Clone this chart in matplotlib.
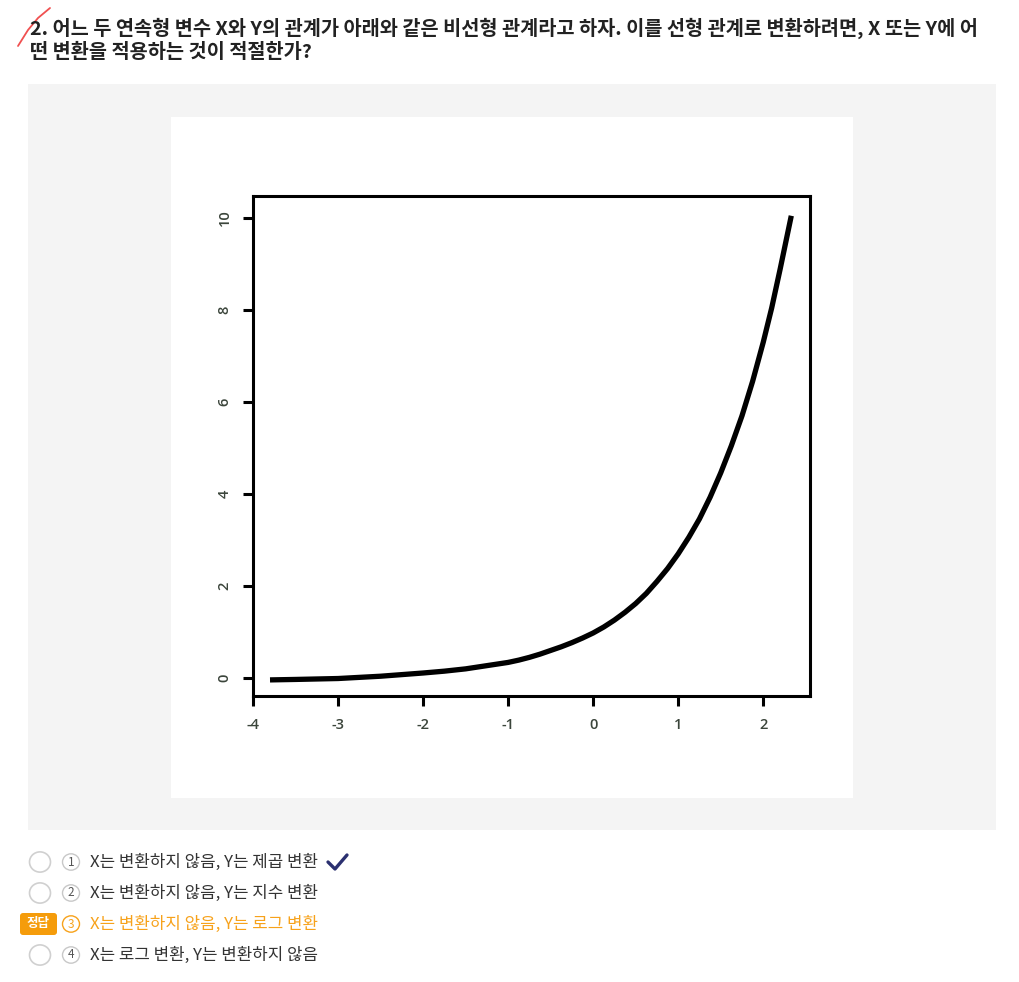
import matplotlib
matplotlib.use("Agg")
import matplotlib.pyplot as plt
from matplotlib.patches import Rectangle, Circle, FancyBboxPatch
from matplotlib.lines import Line2D

plt.rcParams['font.family'] = ['Noto Sans CJK KR', 'DejaVu Sans']

# ---- data ----
x_vals = [-3.8, -3.5, -3.0, -2.5, -2.0, -1.75, -1.5, -1.25, -1.0, -0.875, -0.75,
          -0.625, -0.5, -0.375, -0.25, -0.125, 0.0, 0.125, 0.25, 0.375, 0.5,
          0.625, 0.75, 0.875, 1.0, 1.125, 1.25, 1.375, 1.5, 1.625, 1.75, 1.875,
          2.0, 2.1, 2.2, 2.33]
y_vals = [-0.04, -0.03, -0.01, 0.04, 0.11, 0.15, 0.2, 0.27, 0.34, 0.39, 0.45,
          0.52, 0.6, 0.68, 0.77, 0.87, 0.98, 1.11, 1.26, 1.43, 1.62,
          1.84, 2.1, 2.38, 2.7, 3.06, 3.46, 3.93, 4.46, 5.05, 5.7, 6.45,
          7.3, 8.05, 8.9, 10.05]
x_ticks = [-4, -3, -2, -1, 0, 1, 2]
y_ticks = [0, 2, 4, 6, 8, 10]

title_lines = ["2. 어느 두 연속형 변수 X와 Y의 관계가 아래와 같은 비선형 관계라고 하자. 이를 선형 관계로 변환하려면, X 또는 Y에 어",
               "떤 변환을 적용하는 것이 적절한가?"]
options = ["X는 변환하지 않음, Y는 제곱 변환",
           "X는 변환하지 않음, Y는 지수 변환",
           "X는 변환하지 않음, Y는 로그 변환",
           "X는 로그 변환, Y는 변환하지 않음"]
answer_index = 2
checked_index = 0

W, H = 1020, 982
fig = plt.figure(figsize=(W / 100, H / 100), dpi=100)
fig.patch.set_facecolor('white')

def fx(px):
    return px / W

def fy(py):
    return 1 - py / H

def rect(x0, y0, x1, y1, **kw):
    fig.patches.append(Rectangle((fx(x0), fy(y1)), fx(x1) - fx(x0), fy(y0) - fy(y1),
                                 transform=fig.transFigure, **kw))

# panels
rect(28, 84, 996, 830, facecolor='#f4f4f4', edgecolor='none', zorder=0)
rect(171, 117, 853, 798, facecolor='white', edgecolor='none', zorder=0)

# title
for i, line in enumerate(title_lines):
    fig.text(fx(30), fy(28 + i * 24), line, fontsize=14.2, fontweight='bold',
             color='#222222', va='center', ha='left')

# red slash mark
fig.lines.append(Line2D([fx(18), fx(28), fx(38), fx(50)], [fy(46), fy(30), fy(18), fy(8)],
                        transform=fig.transFigure, color='#f05050', lw=1.3,
                        solid_capstyle='round'))

# axes
ax = fig.add_axes([fx(253), fy(696), fx(810) - fx(253), fy(196) - fy(696)])
ax.set_zorder(5)
ax.plot(x_vals, y_vals, color='black', lw=3.8, solid_capstyle='butt',
        solid_joinstyle='round')
ax.set_xlim(-4.0, 2.55)
ax.set_ylim(-0.39, 10.48)
ax.set_xticks(x_ticks)
ax.set_yticks(y_ticks)
ax.set_xticklabels([str(t) for t in x_ticks])
ax.set_yticklabels([str(t) for t in y_ticks], rotation=90, va='center')
for s in ax.spines.values():
    s.set_linewidth(2.2)
    s.set_color('black')
ax.tick_params(axis='both', direction='out', length=7.5, width=2.2, color='black',
               labelsize=10.5, labelcolor='#3b453b', pad=8)
for lab in ax.get_xticklabels() + ax.get_yticklabels():
    lab.set_family(['Open Sans', 'DejaVu Sans'])
    lab.set_fontweight('semibold')

# options
orange = '#f7a21b'
for i, opt in enumerate(options):
    cy = 862 + i * 31
    col = orange if i == answer_index else '#333333'
    if i == answer_index:
        fig.patches.append(FancyBboxPatch((fx(20), fy(935)), fx(57) - fx(20), fy(913) - fy(935),
                                          boxstyle='round,pad=0,rounding_size=0.003',
                                          transform=fig.transFigure, facecolor='#f59c0b',
                                          edgecolor='none'))
        fig.text(fx(38.5), fy(cy), "정답", fontsize=9, color='white', fontweight='bold',
                 ha='center', va='center')
    else:
        fig.patches.append(Circle((fx(40), fy(cy)), 10.5 / W, transform=fig.transFigure,
                                  facecolor='white', edgecolor='#d0d0d0', lw=1.2))
    num_col = orange if i == answer_index else '#c8c8c8'
    fig.patches.append(Circle((fx(71), fy(cy)), 8.5 / W, transform=fig.transFigure,
                              facecolor='white', edgecolor=num_col, lw=1.0))
    fig.text(fx(71), fy(cy), str(i + 1), fontsize=8.5, color=orange if i == answer_index else '#555555',
             ha='center', va='center')
    fig.text(fx(90), fy(cy), opt, fontsize=12.1, color=col, ha='left', va='center')

# check mark next to chosen option
cy = 862 + checked_index * 31
fig.lines.append(Line2D([fx(328), fx(335), fx(347)], [fy(cy), fy(cy + 7), fy(cy - 7)],
                        transform=fig.transFigure, color='#2b3070', lw=2.4,
                        solid_capstyle='round', solid_joinstyle='round'))

fig.savefig('out.png', dpi=100, facecolor='white')
